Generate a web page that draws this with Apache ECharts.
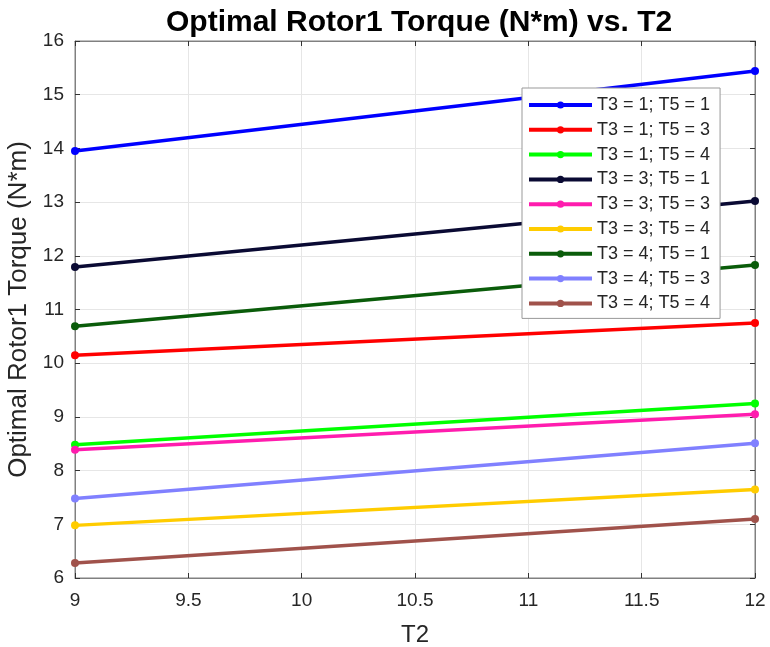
<!DOCTYPE html>
<html><head><meta charset="utf-8">
<script src="https://cdn.jsdelivr.net/npm/echarts@6/dist/echarts.min.js"></script>
<style>html,body{margin:0;padding:0;background:#fff}#c{width:770px;height:647px}</style>
</head><body><div id="c"></div>
<script>
const xValues = [9, 12];
const seriesNames = ['T3 = 1; T5 = 1','T3 = 1; T5 = 3','T3 = 1; T5 = 4','T3 = 3; T5 = 1','T3 = 3; T5 = 3','T3 = 3; T5 = 4','T3 = 4; T5 = 1','T3 = 4; T5 = 3','T3 = 4; T5 = 4'];
const s11 = [13.95, 15.44];
const s13 = [10.15, 10.75];
const s14 = [8.48, 9.25];
const s31 = [11.79, 13.02];
const s33 = [8.39, 9.05];
const s34 = [6.98, 7.65];
const s41 = [10.69, 11.83];
const s43 = [7.48, 8.51];
const s44 = [6.28, 7.10];
const seriesValues = [s11, s13, s14, s31, s33, s34, s41, s43, s44];
const colors = ['#0000FF','#FF0000','#00FF00','#0A0A33','#FF1CAE','#FFCC00','#0A5C0A','#8080FF','#A0524B'];
const xTicks = [9, 9.5, 10, 10.5, 11, 11.5, 12];
const yTicks = [6,7,8,9,10,11,12,13,14,15,16];

const chart = echarts.init(document.getElementById('c'));
const font = 'Arial, "Liberation Sans", sans-serif';
const axisColor = '#808080';
const textColor = '#262626';
chart.setOption({
  animation: false,
  title: { text: 'Optimal Rotor1 Torque (N*m) vs. T2', left: 161, top: 3,
    textStyle: { fontFamily: font, fontWeight: 'bold', fontSize: 30, color: '#000' } },
  grid: { left: 75, right: 15, top: 41, bottom: 69, show: true, borderColor: axisColor, borderWidth: 1,
    containLabel: false, outerBoundsMode: 'none' },
  legend: {
    orient: 'vertical', left: 522, top: 88, itemWidth: 63, itemHeight: 9, itemGap: 4.8,
    backgroundColor: '#fff', borderColor: '#999', borderWidth: 1, padding: [7, 10, 5, 5],
    lineStyle: { width: 4 },
    textStyle: { fontFamily: font, fontSize: 18, lineHeight: 20, color: textColor },
    data: seriesNames
  },
  xAxis: [{
    type: 'value', min: 9, max: 12, interval: 0.5,
    name: 'T2', nameLocation: 'middle', nameGap: 45,
    nameTextStyle: { fontFamily: font, fontSize: 24, color: textColor },
    axisLine: { show: true, lineStyle: { color: axisColor } },
    axisTick: { show: true, inside: true, length: 5, lineStyle: { color: '#333' } },
    axisLabel: { fontFamily: font, fontSize: 19, color: textColor, margin: 13,
      formatter: v => xTicks.includes(v) ? String(v) : '' },
    splitLine: { show: true, lineStyle: { color: '#E6E6E6' } }
  }, {
    type: 'value', min: 9, max: 12, interval: 0.5, position: 'top',
    axisLine: { show: true, lineStyle: { color: axisColor } },
    axisTick: { show: true, inside: true, length: 5, lineStyle: { color: '#333' } },
    axisLabel: { show: false }, splitLine: { show: false }
  }],
  yAxis: [{
    type: 'value', min: 6, max: 16, interval: 1,
    name: 'Optimal Rotor1 Torque (N*m)', nameLocation: 'middle', nameGap: 36,
    nameTextStyle: { fontFamily: font, fontSize: 26, color: textColor },
    axisLine: { show: true, lineStyle: { color: axisColor } },
    axisTick: { show: true, inside: true, length: 5, lineStyle: { color: '#333' } },
    axisLabel: { fontFamily: font, fontSize: 19, color: textColor, margin: 11,
      formatter: v => yTicks.includes(v) ? String(v) : '' },
    splitLine: { show: true, lineStyle: { color: '#E6E6E6' } }
  }, {
    type: 'value', min: 6, max: 16, interval: 1, position: 'right',
    axisLine: { show: true, lineStyle: { color: axisColor } },
    axisTick: { show: true, inside: true, length: 5, lineStyle: { color: '#333' } },
    axisLabel: { show: false }, splitLine: { show: false }
  }],
  series: seriesNames.map((n, i) => ({
    name: n, type: 'line', xAxisIndex: 0, yAxisIndex: 0,
    data: xValues.map((x, j) => [x, seriesValues[i][j]]),
    symbol: 'circle', symbolSize: 8, showSymbol: true,
    lineStyle: { width: 3.5, color: colors[i] },
    itemStyle: { color: colors[i] },
    z: 2
  }))
});
</script></body></html>
